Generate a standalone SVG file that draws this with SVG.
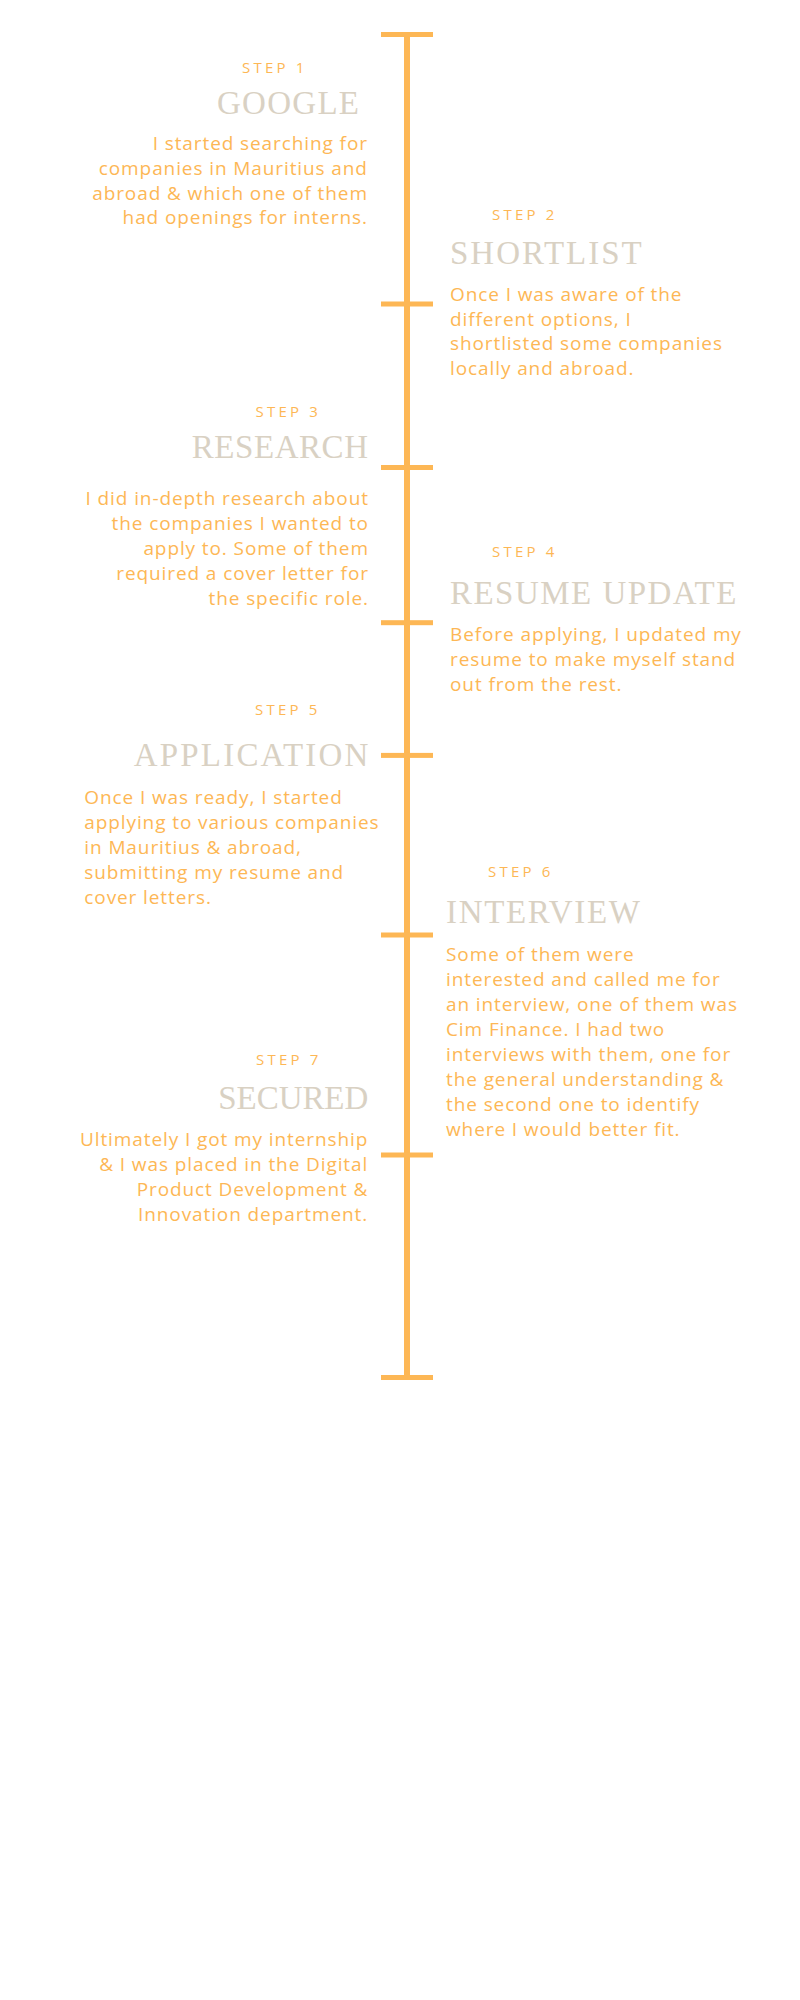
<svg xmlns="http://www.w3.org/2000/svg" width="800" height="2000" viewBox="0 0 800 2000">
<style>
.bg{fill:#ffffff}
.axis{fill:#FDB755}
.step{font-family:"Open Sans","Noto Sans",sans-serif;font-size:15px;letter-spacing:3.2px;fill:#FDB755}
.title{font-family:"Liberation Serif","Times New Roman",serif;font-size:33px;fill:#D9D1C3}
.body{font-family:"Open Sans","Noto Sans",sans-serif;font-size:19px;letter-spacing:0.9px;fill:#FDB755}
.r{text-anchor:end}
</style>
<rect class="bg" x="0" y="0" width="800" height="2000"/>
<g id="connectors">
  <rect class="axis" x="404" y="34" width="6" height="1344"/>
  <rect class="axis" x="381" y="32" width="52" height="5"/>
  <rect class="axis" x="381" y="301.5" width="52" height="5"/>
  <rect class="axis" x="381" y="465" width="52" height="5"/>
  <rect class="axis" x="381" y="620.2" width="52" height="5"/>
  <rect class="axis" x="381" y="752.9" width="52" height="5"/>
  <rect class="axis" x="381" y="932.5" width="52" height="5"/>
  <rect class="axis" x="381" y="1152.5" width="52" height="5"/>
  <rect class="axis" x="381" y="1375" width="52" height="5"/>
</g>
<g id="step1">
  <text class="step" x="242" y="73">STEP 1</text>
  <text class="title r" x="359" y="114" textLength="142" lengthAdjust="spacing">GOOGLE</text>
  <text class="body r" x="367.9" y="150">I started searching for</text>
  <text class="body r" x="367.9" y="175">companies in Mauritius and</text>
  <text class="body r" x="367.9" y="199.5">abroad &amp; which one of them</text>
  <text class="body r" x="367.9" y="224">had openings for interns.</text>
</g>
<g id="step2">
  <text class="step" x="492" y="220">STEP 2</text>
  <text class="title" x="450" y="264" textLength="191.7" lengthAdjust="spacing">SHORTLIST</text>
  <text class="body" x="450" y="301">Once I was aware of the</text>
  <text class="body" x="450" y="325.5">different options, I</text>
  <text class="body" x="450" y="350">shortlisted some companies</text>
  <text class="body" x="450" y="374.5">locally and abroad.</text>
</g>
<g id="step3">
  <text class="step" x="255.5" y="417">STEP 3</text>
  <text class="title r" x="368" y="458" textLength="176.3" lengthAdjust="spacing">RESEARCH</text>
  <text class="body r" x="368.9" y="505">I did in-depth research about</text>
  <text class="body r" x="368.9" y="530">the companies I wanted to</text>
  <text class="body r" x="368.9" y="555">apply to. Some of them</text>
  <text class="body r" x="368.9" y="580">required a cover letter for</text>
  <text class="body r" x="368.9" y="605">the specific role.</text>
</g>
<g id="step4">
  <text class="step" x="492" y="557">STEP 4</text>
  <text class="title" x="450" y="604.3" textLength="286.3" lengthAdjust="spacing">RESUME UPDATE</text>
  <text class="body" x="450" y="640.7">Before applying, I updated my</text>
  <text class="body" x="450" y="665.7">resume to make myself stand</text>
  <text class="body" x="450" y="690.7">out from the rest.</text>
</g>
<g id="step5">
  <text class="step" x="255" y="715">STEP 5</text>
  <text class="title r" x="368.4" y="765.7" textLength="234.7" lengthAdjust="spacing">APPLICATION</text>
  <text class="body" x="84.3" y="804.3">Once I was ready, I started</text>
  <text class="body" x="84.3" y="829.3">applying to various companies</text>
  <text class="body" x="84.3" y="854.3">in Mauritius &amp; abroad,</text>
  <text class="body" x="84.3" y="879.3">submitting my resume and</text>
  <text class="body" x="84.3" y="904.3">cover letters.</text>
</g>
<g id="step6">
  <text class="step" x="488" y="876.7">STEP 6</text>
  <text class="title" x="446" y="923.3" textLength="194" lengthAdjust="spacing">INTERVIEW</text>
  <text class="body" x="446" y="961">Some of them were</text>
  <text class="body" x="446" y="986">interested and called me for</text>
  <text class="body" x="446" y="1011">an interview, one of them was</text>
  <text class="body" x="446" y="1036">Cim Finance. I had two</text>
  <text class="body" x="446" y="1061">interviews with them, one for</text>
  <text class="body" x="446" y="1086">the general understanding &amp;</text>
  <text class="body" x="446" y="1111">the second one to identify</text>
  <text class="body" x="446" y="1136">where I would better fit.</text>
</g>
<g id="step7">
  <text class="step" x="256" y="1065">STEP 7</text>
  <text class="title r" x="368.3" y="1109.3" textLength="150" lengthAdjust="spacing">SECURED</text>
  <text class="body r" x="368.2" y="1146">Ultimately I got my internship</text>
  <text class="body r" x="368.2" y="1171">&amp; I was placed in the Digital</text>
  <text class="body r" x="368.2" y="1196">Product Development &amp;</text>
  <text class="body r" x="368.2" y="1221">Innovation department.</text>
</g>
</svg>
